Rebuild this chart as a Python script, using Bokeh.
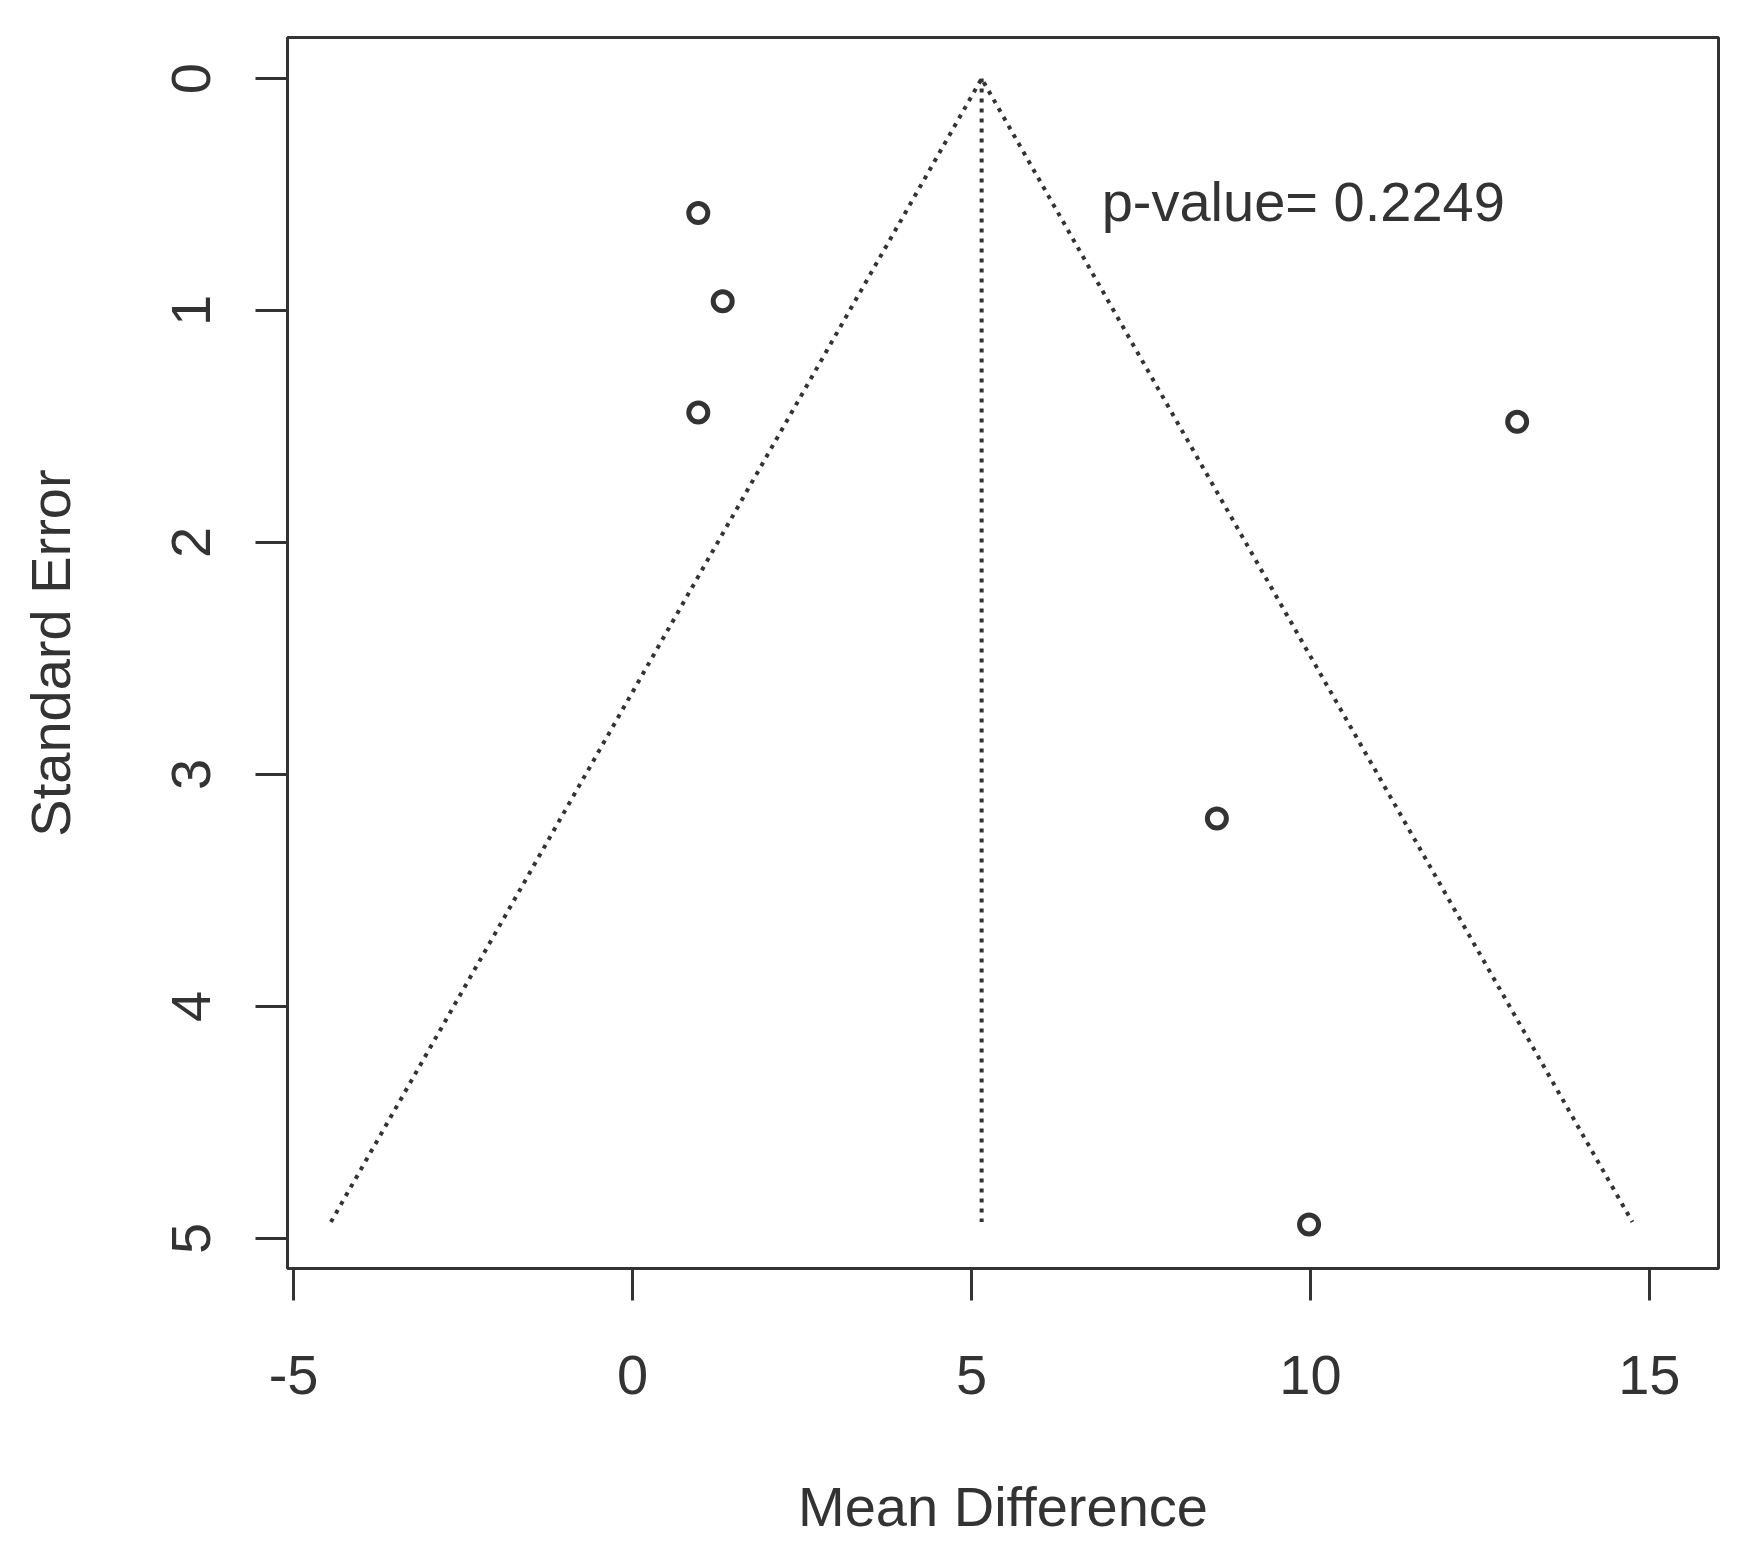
from bokeh.plotting import figure
from bokeh.models import Range1d, FixedTicker, ColumnDataSource
from bokeh.core.properties import value
from bokeh.embed import file_html
from bokeh.resources import INLINE

# ---- data ----
mean_diff = [0.97, 1.33, 0.97, 13.05, 8.62, 9.98]
std_err = [0.58, 0.96, 1.44, 1.48, 3.19, 4.94]
summary_estimate = 5.15
funnel_x = [-4.45, 5.15, 14.75]
funnel_y = [4.93, 0.0, 4.93]
center_y = [0.0, 4.93]
x_ticks = [-5, 0, 5, 10, 15]
x_tick_labels = ["-5", "0", "5", "10", "15"]
y_ticks = [0, 1, 2, 3, 4, 5]
annot_text = ["p-value= 0.2249"]
annot_x = [6.92]
annot_y = [0.53]

INK = "#333333"
FONT = "Liberation Sans"

p = figure(width=1733, height=1540, output_backend="svg", toolbar_location=None,
           x_range=Range1d(-5.09, 16.02), y_range=Range1d(5.13, -0.177),
           min_border_left=287, min_border_right=15, min_border_top=37, min_border_bottom=272)

p.background_fill_color = "white"
p.border_fill_color = "white"
p.outline_line_color = INK
p.outline_line_width = 3
p.grid.visible = False

# funnel and center line
p.line(funnel_x, funnel_y, line_color=INK, line_width=4, line_dash="4 6")
p.line([summary_estimate, summary_estimate], center_y, line_color=INK, line_width=4, line_dash="4 6")

# studies
src = ColumnDataSource(dict(x=mean_diff, y=std_err))
p.scatter("x", "y", source=src, marker="circle", size=19, fill_color=None,
          line_color=INK, line_width=5)

# annotation
p.text(x=annot_x, y=annot_y, text=annot_text, text_font=value(FONT), text_font_size="56px",
       text_color=INK, text_align="left", text_baseline="middle")

# axes
for ax in (p.xaxis[0], p.yaxis[0]):
    ax.axis_line_color = None
    ax.major_tick_line_color = INK
    ax.major_tick_line_width = 3
    ax.major_tick_out = 32
    ax.major_tick_in = 0
    ax.minor_tick_line_color = None
    ax.major_label_text_font = FONT
    ax.major_label_text_font_size = "56px"
    ax.major_label_text_color = INK
    ax.axis_label_text_font = FONT
    ax.axis_label_text_font_size = "56px"
    ax.axis_label_text_font_style = "normal"
    ax.axis_label_text_color = INK

p.xaxis[0].ticker = FixedTicker(ticks=x_ticks)
p.xaxis[0].major_label_overrides = {t: s for t, s in zip(x_ticks, x_tick_labels)}
p.yaxis[0].ticker = FixedTicker(ticks=y_ticks)
p.xaxis[0].axis_label = "Mean Difference"
p.yaxis[0].axis_label = "Standard Error"
p.xaxis[0].major_label_standoff = 55
p.xaxis[0].axis_label_standoff = 78
p.yaxis[0].major_label_orientation = "vertical"
p.yaxis[0].major_label_standoff = 45
p.yaxis[0].axis_label_standoff = 88

open("out.html", "w").write(file_html(p, INLINE))
